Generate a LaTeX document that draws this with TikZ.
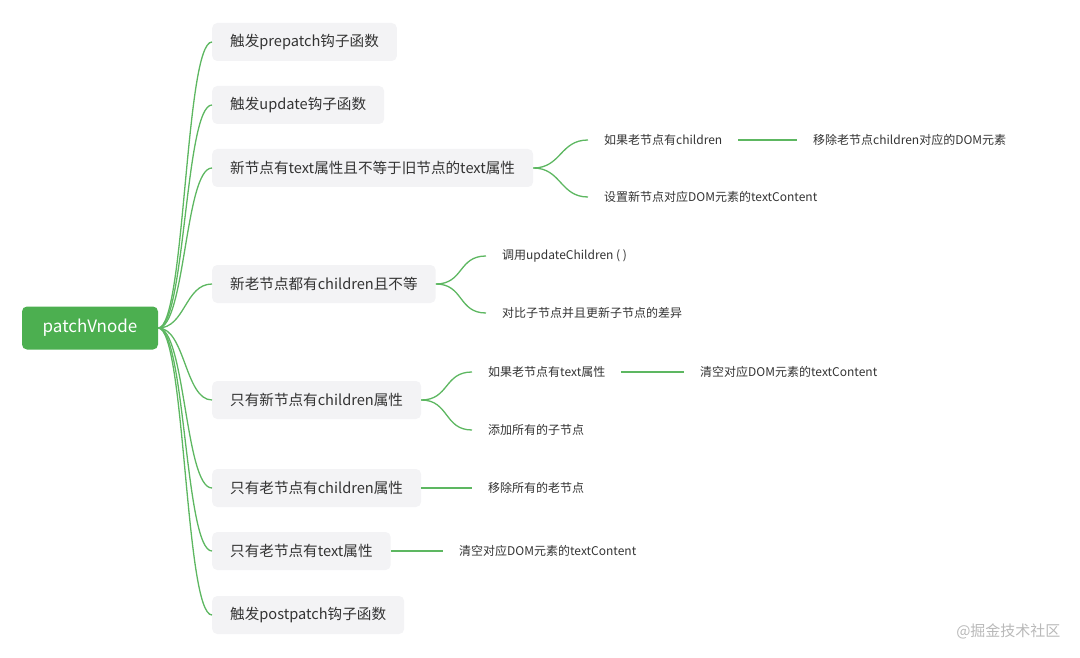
\documentclass[tikz,border=0pt]{standalone}
\usepackage{fontspec}
\setmainfont{Noto Sans CJK SC}
\usetikzlibrary{positioning}
\definecolor{mapgreen}{HTML}{5DB761}
\definecolor{rootgreen}{HTML}{4CAF50}
\definecolor{boxgray}{HTML}{F3F3F5}
\definecolor{txtgray}{HTML}{333333}
\newcommand{\lineC}{mapgreen}
\newcommand{\boxC}{boxgray}

\begin{document}
\begin{tikzpicture}[x=1pt,y=-1pt,inner ysep=0pt,
	root/.style={fill=rootgreen,text=white,rounded corners=5pt,minimum width=136pt,minimum height=43pt,font=\fontsize{17}{20}\selectfont},
	topic/.style={fill=\boxC,text=txtgray,rounded corners=5pt,minimum height=38pt,inner xsep=18pt,anchor=west,font=\fontsize{14.6}{18}\selectfont},
	leaf/.style={text=txtgray,inner xsep=16pt,minimum height=20pt,anchor=west,font=\fontsize{12}{14}\selectfont},
	branch/.style={draw=\lineC,line width=1.3pt}]
	\useasboundingbox (0,0) rectangle (1080,658);
	
	\node[root] (pv) at (90,328) {patchVnode};
	
	\node[topic] (t1) at (212,42) {触发prepatch钩子函数};
	\node[topic] (t2) at (212,105) {触发update钩子函数};
	\node[topic] (t3) at (212,168) {新节点有text属性且不等于旧节点的text属性};
	\node[topic] (t4) at (212,284) {新老节点都有children且不等};
	\node[topic] (t5) at (212,400) {只有新节点有children属性};
	\node[topic] (t6) at (212,488) {只有老节点有children属性};
	\node[topic] (t7) at (212,551) {只有老节点有text属性};
	\node[topic] (t8) at (212,615) {触发postpatch钩子函数};
	
	\node[leaf] (l3a) at (588,140) {如果老节点有children};
	\node[leaf] (l3c) at (797,140) {移除老节点children对应的DOM元素};
	\node[leaf] (l3b) at (588,197) {设置新节点对应DOM元素的textContent};
	\node[leaf] (l4a) at (486,256) {调用updateChildren ( )};
	\node[leaf] (l4b) at (486,313) {对比子节点并且更新子节点的差异};
	\node[leaf] (l5a) at (472,372) {如果老节点有text属性};
	\node[leaf] (l5c) at (684,372) {清空对应DOM元素的textContent};
	\node[leaf] (l5b) at (472,430) {添加所有的子节点};
	\node[leaf] (l6) at (472,488) {移除所有的老节点};
	\node[leaf] (l7) at (443,551) {清空对应DOM元素的textContent};
	
	%\draw[help lines] (0,0) grid[step=50] (1080,658);
	\foreach \t in {t1,t2,t3,t4,t5,t6,t7,t8}
		\draw[branch] (pv.east) .. controls +(27,0) and +(-27,0) .. (\t.west);
	\foreach \a/\b in {t3/l3a,t3/l3b,t4/l4a,t4/l4b,t5/l5a,t5/l5b}
		\draw[branch] (\a.east) .. controls +(28,0) and +(-28,0) .. (\b.west);
	\draw[branch] (l3a.east) -- (l3c.west);
	\draw[branch] (l5a.east) -- (l5c.west);
	\draw[branch] (t6.east) -- (l6.west);
	\draw[branch] (t7.east) -- (l7.west);
	
	\node[anchor=east,text=gray!55,font=\fontsize{15}{17}\selectfont] (mark) at (1064,631) {@掘金技术社区};
\end{tikzpicture}
\end{document}
